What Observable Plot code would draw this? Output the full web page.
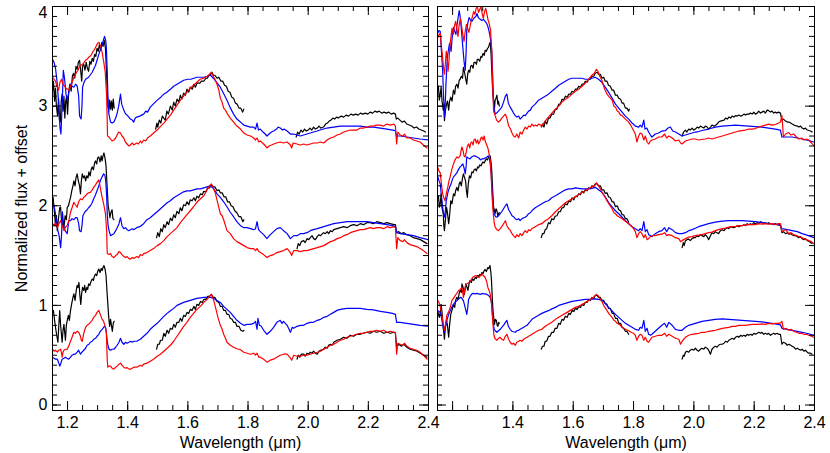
<!DOCTYPE html>
<html><head><meta charset="utf-8">
<script src="https://cdn.jsdelivr.net/npm/d3@7"></script>
<script src="https://cdn.jsdelivr.net/npm/@observablehq/plot@0.6"></script>
<style>
html,body{margin:0;padding:0;background:#fff;}
#wrap{position:relative;width:830px;height:453px;overflow:hidden;}
#wrap svg{position:absolute;left:0;top:0;}
</style></head><body><div id="wrap"></div>
<script>
// ---------- tick values / labels ----------
const xMajor = [1.2,1.4,1.6,1.8,2.0,2.2,2.4];
const xMinor = [1.15,1.2,1.25,1.3,1.35,1.4,1.45,1.5,1.55,1.6,1.65,1.7,1.75,1.8,1.85,1.9,1.95,2.0,2.05,2.1,2.15,2.2,2.25,2.3,2.35,2.4];
const xLabelsLeft = [1.2,1.4,1.6,1.8,2.0,2.2,2.4];
const xLabelsRight = [1.4,1.6,1.8,2.0,2.2,2.4];
const yMajor = [0,1,2,3,4];
const yMinor = [0,0.1,0.2,0.3,0.4,0.5,0.6,0.7,0.8,0.9,1,1.1,1.2,1.3,1.4,1.5,1.6,1.7,1.8,1.9,2,2.1,2.2,2.3,2.4,2.5,2.6,2.7,2.8,2.9,3,3.1,3.2,3.3,3.4,3.5,3.6,3.7,3.8,3.9,4];
const yLabels = [0,1,2,3];
const yLabelTop = [4];
const xTitle = "Wavelength (μm)";
const yTitle = "Normalized flux + offset";

// ---------- LEFT PANEL spectra [wavelength, flux] ----------
const l3Blue = [[1.150,3.47],[1.155,3.44],[1.160,3.38],[1.165,3.25],[1.170,3.05],[1.175,2.78],[1.178,2.72],[1.182,3.00],[1.186,3.36],[1.190,3.28],[1.195,3.12],[1.199,3.06],[1.205,3.15],[1.210,3.22],[1.215,3.20],[1.221,3.19],[1.227,3.22],[1.232,3.20],[1.237,3.10],[1.240,2.90],[1.245,2.87],[1.248,3.00],[1.250,3.19],[1.255,3.24],[1.260,3.27],[1.270,3.29],[1.282,3.34],[1.293,3.41],[1.304,3.52],[1.315,3.62],[1.323,3.70],[1.327,3.66],[1.329,3.59],[1.332,3.35],[1.334,3.12],[1.337,2.93],[1.343,2.84],[1.348,2.83],[1.354,2.84],[1.360,2.88],[1.365,2.93],[1.370,3.00],[1.376,3.12],[1.380,3.02],[1.387,2.96],[1.393,2.92],[1.398,2.91],[1.404,2.89],[1.409,2.87],[1.415,2.86],[1.420,2.84],[1.425,2.88],[1.430,2.89],[1.440,2.90],[1.453,2.92],[1.460,2.95],[1.466,2.94],[1.475,2.99],[1.485,3.02],[1.498,3.06],[1.510,3.09],[1.520,3.12],[1.530,3.14],[1.542,3.17],[1.553,3.20],[1.564,3.22],[1.575,3.24],[1.586,3.26],[1.600,3.27],[1.610,3.27],[1.620,3.28],[1.630,3.29],[1.640,3.29],[1.653,3.29],[1.665,3.30],[1.675,3.31],[1.685,3.28],[1.695,3.24],[1.708,3.19],[1.720,3.12],[1.730,3.06],[1.740,2.99],[1.752,2.92],[1.763,2.87],[1.775,2.84],[1.786,2.81],[1.797,2.80],[1.808,2.79],[1.819,2.79],[1.825,2.77],[1.830,2.83],[1.835,2.76],[1.841,2.77],[1.850,2.74],[1.857,2.72],[1.863,2.70],[1.870,2.72],[1.878,2.74],[1.885,2.75],[1.895,2.77],[1.900,2.79],[1.907,2.78],[1.915,2.76],[1.920,2.77],[1.930,2.75],[1.941,2.72],[1.952,2.72],[1.963,2.71],[1.974,2.70],[1.985,2.71],[1.996,2.72],[2.007,2.73],[2.018,2.74],[2.030,2.75],[2.040,2.76],[2.062,2.78],[2.085,2.79],[2.107,2.80],[2.129,2.80],[2.151,2.80],[2.173,2.80],[2.195,2.79],[2.217,2.79],[2.240,2.78],[2.262,2.77],[2.280,2.76],[2.290,2.755],[2.293,2.70],[2.306,2.70],[2.328,2.69],[2.350,2.68],[2.372,2.67],[2.400,2.66]];
const l3Red = [[1.150,3.29],[1.155,3.27],[1.160,3.25],[1.165,3.20],[1.170,3.16],[1.175,3.24],[1.180,3.27],[1.185,3.22],[1.190,3.20],[1.195,3.18],[1.200,3.17],[1.205,3.16],[1.210,3.20],[1.215,3.24],[1.220,3.28],[1.225,3.31],[1.230,3.34],[1.235,3.36],[1.240,3.40],[1.245,3.41],[1.250,3.42],[1.255,3.44],[1.260,3.46],[1.265,3.47],[1.270,3.49],[1.275,3.50],[1.280,3.52],[1.285,3.55],[1.290,3.57],[1.295,3.60],[1.300,3.63],[1.305,3.64],[1.310,3.60],[1.315,3.54],[1.320,3.45],[1.325,3.35],[1.330,3.10],[1.333,2.70],[1.338,2.69],[1.343,2.67],[1.348,2.65],[1.354,2.66],[1.360,2.68],[1.365,2.71],[1.370,2.74],[1.376,2.73],[1.381,2.70],[1.387,2.68],[1.392,2.64],[1.398,2.62],[1.404,2.60],[1.409,2.61],[1.415,2.63],[1.420,2.61],[1.425,2.62],[1.430,2.63],[1.436,2.62],[1.442,2.65],[1.447,2.63],[1.453,2.66],[1.460,2.65],[1.466,2.68],[1.475,2.70],[1.486,2.73],[1.498,2.76],[1.510,2.80],[1.520,2.83],[1.531,2.87],[1.542,2.91],[1.553,2.96],[1.564,3.01],[1.575,3.06],[1.586,3.10],[1.597,3.14],[1.608,3.18],[1.619,3.21],[1.630,3.24],[1.641,3.27],[1.653,3.28],[1.664,3.30],[1.672,3.32],[1.678,3.34],[1.683,3.31],[1.690,3.27],[1.697,3.22],[1.703,3.16],[1.708,3.08],[1.714,3.04],[1.719,2.98],[1.725,2.96],[1.730,2.93],[1.741,2.88],[1.752,2.84],[1.763,2.80],[1.775,2.77],[1.786,2.73],[1.797,2.71],[1.808,2.70],[1.819,2.68],[1.825,2.66],[1.830,2.68],[1.836,2.64],[1.841,2.65],[1.852,2.62],[1.858,2.60],[1.863,2.58],[1.870,2.60],[1.878,2.61],[1.885,2.62],[1.895,2.63],[1.907,2.64],[1.918,2.63],[1.930,2.64],[1.941,2.61],[1.945,2.58],[1.950,2.63],[1.963,2.62],[1.974,2.61],[1.985,2.62],[1.996,2.61],[2.007,2.62],[2.018,2.63],[2.030,2.63],[2.041,2.64],[2.052,2.63],[2.063,2.66],[2.074,2.68],[2.085,2.69],[2.096,2.71],[2.107,2.72],[2.118,2.74],[2.129,2.75],[2.140,2.76],[2.151,2.76],[2.162,2.76],[2.173,2.78],[2.184,2.78],[2.195,2.79],[2.206,2.80],[2.217,2.80],[2.228,2.81],[2.240,2.81],[2.251,2.80],[2.262,2.82],[2.273,2.81],[2.285,2.82],[2.290,2.80],[2.294,2.62],[2.298,2.74],[2.306,2.71],[2.315,2.70],[2.320,2.72],[2.328,2.68],[2.339,2.68],[2.350,2.66],[2.361,2.65],[2.372,2.64],[2.383,2.61],[2.395,2.58]];
const l3BlackJ = [[1.150,3.15],[1.153,3.25],[1.157,3.05],[1.160,3.18],[1.163,3.00],[1.167,2.90],[1.170,3.08],[1.173,2.86],[1.176,2.84],[1.179,3.05],[1.182,3.12],[1.185,2.95],[1.188,3.10],[1.191,2.88],[1.194,3.05],[1.197,3.10],[1.200,2.92],[1.204,3.15],[1.208,3.22],[1.212,3.15],[1.216,3.30],[1.220,3.33],[1.224,3.28],[1.228,3.40],[1.232,3.37],[1.236,3.44],[1.240,3.46],[1.244,3.35],[1.247,3.25],[1.250,3.40],[1.254,3.42],[1.258,3.36],[1.262,3.44],[1.266,3.38],[1.270,3.35],[1.274,3.45],[1.278,3.42],[1.282,3.48],[1.286,3.45],[1.290,3.52],[1.294,3.50],[1.298,3.58],[1.302,3.55],[1.306,3.62],[1.310,3.56],[1.314,3.64],[1.318,3.60],[1.322,3.66],[1.326,3.58],[1.330,3.30],[1.334,3.00],[1.337,2.95],[1.340,3.06],[1.343,2.97],[1.346,3.05],[1.349,2.96],[1.352,3.07],[1.355,2.98]];
const l3BlackH = [[1.493,2.77],[1.497,2.83],[1.500,2.79],[1.505,2.86],[1.510,2.83],[1.515,2.90],[1.520,2.88],[1.525,2.86],[1.530,2.95],[1.535,2.92],[1.542,3.00],[1.548,2.96],[1.553,3.04],[1.558,3.00],[1.564,3.07],[1.570,3.04],[1.575,3.11],[1.580,3.07],[1.586,3.13],[1.592,3.11],[1.597,3.17],[1.603,3.14],[1.608,3.19],[1.615,3.17],[1.620,3.22],[1.625,3.19],[1.630,3.23],[1.640,3.23],[1.645,3.25],[1.653,3.25],[1.660,3.28],[1.665,3.28],[1.670,3.31],[1.675,3.31],[1.680,3.34],[1.685,3.31],[1.690,3.31],[1.697,3.28],[1.703,3.29],[1.710,3.25],[1.716,3.25],[1.722,3.21],[1.728,3.20],[1.734,3.15],[1.740,3.14],[1.746,3.09],[1.752,3.08],[1.758,3.03],[1.764,3.02],[1.770,2.98],[1.776,2.98],[1.782,2.94],[1.786,2.97]];
const l3BlackK = [[1.960,2.69],[1.965,2.74],[1.970,2.72],[1.976,2.76],[1.982,2.74],[1.988,2.77],[1.994,2.75],[2.000,2.76],[2.006,2.78],[2.012,2.76],[2.018,2.79],[2.024,2.77],[2.030,2.78],[2.036,2.80],[2.042,2.78],[2.051,2.79],[2.058,2.82],[2.064,2.83],[2.070,2.85],[2.076,2.86],[2.082,2.88],[2.088,2.87],[2.094,2.89],[2.100,2.88],[2.110,2.90],[2.118,2.89],[2.126,2.91],[2.134,2.90],[2.142,2.92],[2.150,2.91],[2.158,2.92],[2.166,2.91],[2.174,2.93],[2.182,2.92],[2.190,2.93],[2.198,2.92],[2.206,2.94],[2.214,2.93],[2.222,2.95],[2.229,2.94],[2.236,2.95],[2.244,2.93],[2.252,2.94],[2.260,2.93],[2.268,2.94],[2.276,2.92],[2.284,2.93],[2.290,2.92],[2.293,2.87],[2.298,2.88],[2.305,2.86],[2.312,2.84],[2.320,2.85],[2.328,2.82],[2.336,2.81],[2.344,2.80],[2.352,2.78],[2.360,2.79],[2.368,2.77],[2.376,2.76],[2.384,2.75],[2.390,2.74]];

const l2Blue = [[1.150,2.05],[1.155,2.00],[1.160,1.92],[1.165,1.80],[1.168,1.75],[1.172,1.70],[1.177,1.58],[1.180,1.70],[1.183,1.94],[1.188,1.78],[1.194,1.74],[1.199,1.72],[1.204,1.85],[1.210,1.85],[1.215,1.87],[1.221,1.86],[1.227,1.88],[1.232,1.88],[1.237,1.82],[1.240,1.75],[1.245,1.74],[1.248,1.80],[1.251,1.90],[1.258,1.94],[1.265,1.96],[1.270,1.98],[1.276,2.00],[1.282,2.03],[1.287,2.07],[1.293,2.11],[1.298,2.15],[1.304,2.20],[1.309,2.25],[1.315,2.29],[1.320,2.32],[1.324,2.31],[1.327,2.25],[1.330,2.10],[1.332,1.92],[1.335,1.80],[1.338,1.75],[1.343,1.70],[1.348,1.71],[1.354,1.72],[1.360,1.75],[1.365,1.78],[1.371,1.82],[1.376,1.88],[1.381,1.80],[1.387,1.77],[1.393,1.78],[1.398,1.76],[1.404,1.75],[1.409,1.76],[1.415,1.77],[1.420,1.76],[1.430,1.78],[1.440,1.79],[1.453,1.82],[1.464,1.86],[1.475,1.88],[1.486,1.91],[1.498,1.94],[1.509,1.97],[1.520,2.00],[1.531,2.03],[1.542,2.05],[1.553,2.08],[1.564,2.10],[1.575,2.12],[1.586,2.14],[1.597,2.15],[1.608,2.15],[1.619,2.16],[1.630,2.17],[1.642,2.17],[1.653,2.18],[1.664,2.19],[1.675,2.20],[1.686,2.17],[1.697,2.12],[1.708,2.085],[1.719,2.04],[1.730,1.99],[1.741,1.935],[1.752,1.89],[1.763,1.84],[1.775,1.80],[1.786,1.78],[1.797,1.78],[1.808,1.77],[1.819,1.76],[1.825,1.77],[1.830,1.84],[1.835,1.76],[1.841,1.74],[1.852,1.71],[1.863,1.67],[1.874,1.71],[1.885,1.74],[1.896,1.77],[1.907,1.78],[1.918,1.75],[1.930,1.72],[1.941,1.67],[1.952,1.70],[1.963,1.70],[1.974,1.72],[1.985,1.72],[1.996,1.73],[2.007,1.75],[2.018,1.76],[2.030,1.77],[2.041,1.78],[2.052,1.79],[2.063,1.80],[2.085,1.82],[2.107,1.83],[2.129,1.84],[2.151,1.84],[2.173,1.84],[2.195,1.84],[2.217,1.83],[2.240,1.82],[2.262,1.81],[2.280,1.80],[2.290,1.79],[2.294,1.73],[2.306,1.72],[2.328,1.71],[2.350,1.70],[2.372,1.68],[2.400,1.66]];
const l2Red = [[1.150,1.82],[1.155,1.80],[1.160,1.83],[1.166,1.78],[1.171,1.82],[1.177,1.85],[1.182,1.80],[1.188,1.75],[1.194,1.79],[1.199,1.80],[1.205,1.86],[1.210,1.935],[1.215,1.98],[1.221,2.035],[1.226,2.01],[1.232,1.985],[1.237,2.04],[1.243,2.07],[1.249,2.06],[1.254,2.085],[1.260,2.10],[1.265,2.12],[1.270,2.13],[1.276,2.135],[1.282,2.16],[1.287,2.185],[1.293,2.21],[1.298,2.235],[1.304,2.26],[1.309,2.18],[1.315,2.085],[1.320,2.02],[1.326,1.92],[1.330,1.75],[1.332,1.52],[1.338,1.51],[1.343,1.52],[1.348,1.49],[1.354,1.48],[1.360,1.50],[1.365,1.51],[1.371,1.54],[1.376,1.53],[1.381,1.51],[1.387,1.49],[1.393,1.48],[1.398,1.49],[1.404,1.47],[1.409,1.465],[1.415,1.48],[1.420,1.47],[1.430,1.49],[1.436,1.48],[1.442,1.51],[1.448,1.50],[1.453,1.52],[1.464,1.53],[1.475,1.55],[1.486,1.57],[1.498,1.60],[1.509,1.62],[1.520,1.65],[1.531,1.69],[1.542,1.72],[1.553,1.75],[1.564,1.78],[1.575,1.83],[1.586,1.87],[1.597,1.91],[1.608,1.95],[1.619,1.99],[1.630,2.035],[1.642,2.07],[1.653,2.10],[1.664,2.16],[1.672,2.20],[1.678,2.22],[1.684,2.19],[1.692,2.12],[1.700,2.02],[1.708,1.92],[1.714,1.90],[1.719,1.86],[1.725,1.80],[1.730,1.75],[1.741,1.72],[1.752,1.67],[1.763,1.64],[1.775,1.62],[1.786,1.60],[1.797,1.58],[1.808,1.57],[1.819,1.57],[1.825,1.55],[1.830,1.57],[1.836,1.54],[1.841,1.53],[1.852,1.51],[1.863,1.48],[1.874,1.50],[1.885,1.51],[1.896,1.53],[1.907,1.54],[1.918,1.55],[1.930,1.57],[1.941,1.53],[1.945,1.50],[1.952,1.55],[1.963,1.55],[1.974,1.54],[1.985,1.55],[1.996,1.55],[2.007,1.56],[2.018,1.57],[2.030,1.58],[2.041,1.59],[2.052,1.60],[2.063,1.62],[2.074,1.64],[2.085,1.65],[2.096,1.67],[2.107,1.68],[2.118,1.70],[2.129,1.71],[2.140,1.73],[2.151,1.74],[2.162,1.75],[2.173,1.76],[2.184,1.76],[2.195,1.77],[2.206,1.78],[2.217,1.77],[2.228,1.78],[2.240,1.78],[2.251,1.77],[2.262,1.79],[2.273,1.78],[2.285,1.79],[2.290,1.78],[2.294,1.57],[2.298,1.68],[2.306,1.65],[2.315,1.64],[2.320,1.66],[2.328,1.63],[2.339,1.61],[2.350,1.60],[2.361,1.59],[2.372,1.57],[2.383,1.55],[2.395,1.52]];
const l2BlackJ = [[1.150,2.06],[1.152,2.085],[1.156,1.95],[1.160,1.80],[1.163,1.90],[1.166,1.75],[1.170,1.88],[1.174,1.98],[1.177,1.985],[1.180,1.85],[1.184,1.80],[1.188,1.78],[1.192,1.90],[1.196,1.86],[1.199,1.985],[1.203,2.00],[1.207,2.05],[1.210,2.085],[1.214,2.15],[1.218,2.20],[1.221,2.25],[1.225,2.20],[1.228,2.28],[1.232,2.32],[1.236,2.25],[1.240,2.20],[1.243,2.12],[1.246,2.25],[1.249,2.32],[1.253,2.28],[1.257,2.30],[1.260,2.25],[1.264,2.30],[1.268,2.28],[1.271,2.34],[1.275,2.30],[1.279,2.37],[1.282,2.39],[1.286,2.36],[1.290,2.43],[1.293,2.45],[1.297,2.42],[1.300,2.48],[1.304,2.49],[1.308,2.44],[1.312,2.50],[1.315,2.45],[1.318,2.50],[1.321,2.53],[1.325,2.47],[1.328,2.40],[1.331,2.22],[1.335,2.00],[1.338,1.95],[1.341,1.88],[1.344,1.93],[1.348,1.96],[1.351,1.87],[1.354,1.86]];
const l2BlackH = [[1.496,1.68],[1.500,1.73],[1.505,1.69],[1.510,1.77],[1.515,1.74],[1.520,1.81],[1.525,1.78],[1.531,1.84],[1.536,1.81],[1.542,1.875],[1.548,1.85],[1.553,1.91],[1.558,1.88],[1.564,1.945],[1.570,1.92],[1.575,1.98],[1.580,1.95],[1.586,2.01],[1.592,2.00],[1.597,2.04],[1.603,2.01],[1.608,2.06],[1.614,2.05],[1.620,2.08],[1.625,2.05],[1.630,2.095],[1.636,2.08],[1.642,2.12],[1.648,2.11],[1.653,2.145],[1.660,2.14],[1.666,2.18],[1.672,2.18],[1.678,2.21],[1.684,2.19],[1.690,2.19],[1.697,2.15],[1.703,2.16],[1.708,2.13],[1.714,2.13],[1.720,2.09],[1.726,2.09],[1.732,2.04],[1.738,2.04],[1.744,2.00],[1.750,1.99],[1.756,1.95],[1.763,1.93],[1.770,1.89],[1.776,1.89],[1.783,1.84],[1.786,1.86]];
const l2BlackK = [[1.963,1.57],[1.967,1.62],[1.972,1.60],[1.977,1.64],[1.985,1.65],[1.990,1.63],[1.996,1.67],[2.002,1.66],[2.007,1.68],[2.013,1.70],[2.018,1.67],[2.024,1.66],[2.030,1.69],[2.036,1.71],[2.041,1.70],[2.051,1.73],[2.057,1.72],[2.063,1.74],[2.068,1.72],[2.074,1.75],[2.080,1.74],[2.085,1.76],[2.096,1.77],[2.107,1.78],[2.118,1.79],[2.129,1.78],[2.140,1.80],[2.151,1.81],[2.162,1.80],[2.173,1.82],[2.184,1.81],[2.195,1.83],[2.206,1.83],[2.217,1.82],[2.228,1.84],[2.240,1.83],[2.251,1.82],[2.262,1.83],[2.273,1.82],[2.285,1.81],[2.290,1.81],[2.294,1.73],[2.301,1.74],[2.310,1.72],[2.318,1.73],[2.328,1.71],[2.339,1.70],[2.350,1.68],[2.362,1.67],[2.373,1.66],[2.384,1.64],[2.395,1.62]];

const l1Blue = [[1.150,0.48],[1.155,0.47],[1.160,0.46],[1.166,0.46],[1.170,0.43],[1.174,0.39],[1.178,0.42],[1.182,0.46],[1.188,0.47],[1.193,0.48],[1.198,0.47],[1.204,0.46],[1.210,0.48],[1.215,0.50],[1.221,0.51],[1.226,0.51],[1.232,0.53],[1.237,0.55],[1.243,0.51],[1.248,0.53],[1.254,0.55],[1.260,0.57],[1.265,0.60],[1.271,0.61],[1.276,0.63],[1.282,0.64],[1.287,0.66],[1.293,0.67],[1.298,0.69],[1.304,0.71],[1.309,0.74],[1.315,0.76],[1.320,0.78],[1.324,0.79],[1.327,0.77],[1.330,0.70],[1.332,0.64],[1.335,0.59],[1.338,0.56],[1.343,0.55],[1.348,0.56],[1.354,0.56],[1.360,0.58],[1.365,0.60],[1.371,0.63],[1.376,0.67],[1.381,0.63],[1.387,0.61],[1.393,0.63],[1.398,0.62],[1.404,0.63],[1.409,0.64],[1.415,0.63],[1.420,0.64],[1.430,0.64],[1.442,0.66],[1.453,0.69],[1.464,0.72],[1.475,0.76],[1.486,0.79],[1.498,0.82],[1.509,0.855],[1.520,0.89],[1.531,0.92],[1.542,0.947],[1.553,0.97],[1.564,1.00],[1.575,1.015],[1.586,1.03],[1.597,1.04],[1.608,1.05],[1.619,1.06],[1.630,1.07],[1.642,1.075],[1.653,1.08],[1.664,1.08],[1.675,1.08],[1.686,1.07],[1.697,1.05],[1.708,1.03],[1.719,0.99],[1.730,0.96],[1.741,0.93],[1.752,0.89],[1.763,0.85],[1.775,0.82],[1.786,0.80],[1.797,0.81],[1.808,0.81],[1.819,0.82],[1.825,0.84],[1.830,0.76],[1.833,0.87],[1.838,0.80],[1.844,0.79],[1.852,0.75],[1.863,0.71],[1.874,0.74],[1.885,0.78],[1.896,0.83],[1.907,0.85],[1.913,0.82],[1.918,0.84],[1.930,0.80],[1.941,0.73],[1.947,0.78],[1.952,0.77],[1.963,0.79],[1.974,0.80],[1.985,0.80],[1.996,0.82],[2.007,0.83],[2.018,0.83],[2.030,0.85],[2.041,0.86],[2.052,0.88],[2.063,0.89],[2.074,0.91],[2.085,0.93],[2.096,0.95],[2.107,0.96],[2.129,0.97],[2.151,0.97],[2.173,0.97],[2.195,0.96],[2.217,0.955],[2.240,0.94],[2.262,0.93],[2.280,0.92],[2.290,0.91],[2.294,0.83],[2.306,0.83],[2.328,0.82],[2.350,0.81],[2.372,0.80],[2.400,0.79]];
const l1Red = [[1.150,0.56],[1.155,0.54],[1.160,0.55],[1.166,0.53],[1.171,0.55],[1.177,0.56],[1.180,0.52],[1.182,0.48],[1.185,0.53],[1.188,0.55],[1.194,0.56],[1.199,0.56],[1.205,0.60],[1.210,0.64],[1.215,0.68],[1.221,0.73],[1.226,0.72],[1.232,0.74],[1.237,0.73],[1.243,0.69],[1.246,0.65],[1.249,0.64],[1.254,0.72],[1.260,0.78],[1.265,0.80],[1.270,0.81],[1.276,0.83],[1.282,0.85],[1.287,0.88],[1.293,0.90],[1.298,0.93],[1.304,0.95],[1.309,0.91],[1.315,0.86],[1.320,0.84],[1.326,0.78],[1.329,0.73],[1.332,0.45],[1.334,0.38],[1.338,0.39],[1.343,0.39],[1.348,0.37],[1.354,0.36],[1.360,0.38],[1.365,0.39],[1.371,0.41],[1.376,0.42],[1.381,0.40],[1.387,0.38],[1.393,0.37],[1.398,0.375],[1.404,0.36],[1.409,0.36],[1.415,0.37],[1.420,0.38],[1.430,0.38],[1.436,0.39],[1.442,0.40],[1.448,0.39],[1.453,0.41],[1.464,0.42],[1.475,0.44],[1.486,0.46],[1.498,0.49],[1.509,0.51],[1.520,0.54],[1.531,0.57],[1.542,0.60],[1.553,0.64],[1.564,0.69],[1.575,0.74],[1.586,0.79],[1.597,0.83],[1.608,0.88],[1.619,0.92],[1.630,0.96],[1.642,0.99],[1.653,1.03],[1.664,1.06],[1.672,1.09],[1.678,1.11],[1.684,1.07],[1.692,0.98],[1.700,0.88],[1.708,0.80],[1.714,0.76],[1.719,0.71],[1.725,0.67],[1.730,0.63],[1.741,0.60],[1.752,0.58],[1.763,0.565],[1.775,0.555],[1.786,0.53],[1.797,0.52],[1.808,0.51],[1.819,0.52],[1.825,0.50],[1.830,0.52],[1.836,0.48],[1.841,0.48],[1.852,0.46],[1.863,0.43],[1.874,0.45],[1.885,0.46],[1.896,0.48],[1.907,0.50],[1.918,0.51],[1.930,0.51],[1.941,0.47],[1.945,0.45],[1.952,0.50],[1.963,0.49],[1.974,0.49],[1.985,0.50],[1.996,0.50],[2.007,0.51],[2.018,0.52],[2.030,0.53],[2.041,0.54],[2.052,0.56],[2.063,0.58],[2.074,0.60],[2.085,0.61],[2.096,0.63],[2.107,0.65],[2.118,0.66],[2.129,0.68],[2.140,0.69],[2.151,0.70],[2.162,0.71],[2.173,0.72],[2.184,0.72],[2.195,0.73],[2.206,0.74],[2.217,0.74],[2.228,0.75],[2.240,0.74],[2.251,0.75],[2.262,0.73],[2.273,0.74],[2.285,0.73],[2.290,0.73],[2.294,0.51],[2.298,0.62],[2.306,0.61],[2.315,0.60],[2.320,0.62],[2.328,0.59],[2.339,0.57],[2.350,0.56],[2.361,0.55],[2.372,0.53],[2.383,0.50],[2.395,0.46]];
const l1BlackJ = [[1.150,0.93],[1.153,0.95],[1.157,0.85],[1.160,0.78],[1.164,0.70],[1.168,0.63],[1.171,0.80],[1.174,0.947],[1.177,0.80],[1.180,0.70],[1.182,0.63],[1.185,0.75],[1.188,0.81],[1.190,0.75],[1.193,0.65],[1.196,0.80],[1.199,0.85],[1.203,0.90],[1.206,0.85],[1.210,0.95],[1.214,1.02],[1.218,1.08],[1.221,1.115],[1.225,1.05],[1.229,1.15],[1.232,1.20],[1.235,1.18],[1.238,1.23],[1.241,1.10],[1.244,1.01],[1.247,1.12],[1.250,1.18],[1.254,1.15],[1.257,1.20],[1.260,1.13],[1.264,1.18],[1.267,1.16],[1.270,1.215],[1.274,1.20],[1.278,1.24],[1.282,1.265],[1.286,1.25],[1.289,1.29],[1.293,1.315],[1.297,1.30],[1.300,1.34],[1.304,1.365],[1.308,1.33],[1.312,1.37],[1.315,1.35],[1.318,1.38],[1.321,1.40],[1.325,1.36],[1.328,1.30],[1.331,1.15],[1.334,1.01],[1.337,0.88],[1.340,0.79],[1.343,0.86],[1.346,0.80],[1.349,0.74],[1.352,0.82],[1.355,0.84]];
const l1BlackH = [[1.496,0.56],[1.500,0.61],[1.505,0.61],[1.509,0.65],[1.515,0.65],[1.520,0.72],[1.525,0.69],[1.531,0.75],[1.536,0.72],[1.542,0.77],[1.548,0.76],[1.553,0.81],[1.558,0.78],[1.564,0.83],[1.570,0.83],[1.575,0.87],[1.580,0.84],[1.586,0.90],[1.592,0.89],[1.597,0.93],[1.603,0.92],[1.608,0.96],[1.614,0.95],[1.620,0.99],[1.625,0.96],[1.630,1.01],[1.636,1.00],[1.642,1.04],[1.648,1.03],[1.653,1.06],[1.660,1.06],[1.666,1.09],[1.672,1.09],[1.678,1.11],[1.684,1.08],[1.690,1.08],[1.697,1.04],[1.703,1.03],[1.708,0.99],[1.714,0.99],[1.719,0.95],[1.725,0.95],[1.730,0.91],[1.736,0.91],[1.741,0.87],[1.747,0.86],[1.752,0.83],[1.758,0.83],[1.763,0.79],[1.770,0.79],[1.776,0.75],[1.783,0.74],[1.786,0.75]];
const l1BlackK = [[1.963,0.46],[1.967,0.50],[1.972,0.48],[1.977,0.51],[1.985,0.51],[1.990,0.49],[1.996,0.52],[2.002,0.51],[2.007,0.53],[2.013,0.52],[2.018,0.54],[2.024,0.52],[2.030,0.51],[2.036,0.54],[2.041,0.55],[2.051,0.56],[2.057,0.58],[2.063,0.57],[2.068,0.60],[2.074,0.61],[2.080,0.60],[2.085,0.63],[2.096,0.65],[2.107,0.66],[2.118,0.68],[2.129,0.67],[2.140,0.70],[2.151,0.69],[2.162,0.71],[2.173,0.71],[2.184,0.72],[2.195,0.73],[2.206,0.72],[2.217,0.74],[2.228,0.73],[2.240,0.74],[2.251,0.72],[2.262,0.73],[2.273,0.72],[2.285,0.73],[2.290,0.72],[2.294,0.58],[2.301,0.61],[2.310,0.59],[2.318,0.61],[2.328,0.58],[2.339,0.56],[2.350,0.55],[2.362,0.54],[2.373,0.52],[2.384,0.50],[2.395,0.48]];

// ---------- RIGHT PANEL spectra [wavelength, flux] ----------
const r3Blue = [[1.150,3.73],[1.155,3.76],[1.159,3.75],[1.163,3.55],[1.167,3.36],[1.170,3.10],[1.173,2.89],[1.176,3.05],[1.178,3.22],[1.181,3.40],[1.184,3.52],[1.187,3.58],[1.190,3.63],[1.193,3.58],[1.195,3.55],[1.199,3.70],[1.203,3.79],[1.207,3.75],[1.211,3.72],[1.214,3.80],[1.217,3.86],[1.220,3.92],[1.222,3.96],[1.225,3.90],[1.227,3.85],[1.231,3.70],[1.234,3.59],[1.238,3.45],[1.242,3.36],[1.245,3.55],[1.247,3.76],[1.251,3.84],[1.255,3.89],[1.260,3.86],[1.264,3.85],[1.268,3.87],[1.273,3.89],[1.277,3.90],[1.281,3.93],[1.285,3.89],[1.288,3.88],[1.293,3.87],[1.297,3.86],[1.302,3.87],[1.308,3.85],[1.313,3.83],[1.317,3.80],[1.321,3.75],[1.325,3.69],[1.328,3.62],[1.330,3.55],[1.333,3.30],[1.336,3.02],[1.341,2.92],[1.346,2.93],[1.352,2.95],[1.358,2.97],[1.363,2.99],[1.369,3.04],[1.375,3.10],[1.380,3.12],[1.385,3.03],[1.391,2.99],[1.397,2.96],[1.402,2.93],[1.408,2.905],[1.413,2.89],[1.419,2.90],[1.424,2.87],[1.430,2.89],[1.436,2.91],[1.441,2.905],[1.447,2.93],[1.452,2.95],[1.458,2.96],[1.463,2.99],[1.474,3.02],[1.485,3.06],[1.496,3.08],[1.507,3.10],[1.518,3.12],[1.529,3.15],[1.541,3.18],[1.552,3.21],[1.563,3.23],[1.574,3.25],[1.585,3.27],[1.596,3.28],[1.607,3.28],[1.618,3.28],[1.629,3.28],[1.640,3.27],[1.651,3.27],[1.662,3.28],[1.673,3.29],[1.684,3.27],[1.695,3.24],[1.706,3.19],[1.717,3.14],[1.729,3.08],[1.740,3.02],[1.751,2.98],[1.762,2.94],[1.773,2.90],[1.784,2.87],[1.795,2.83],[1.806,2.80],[1.817,2.79],[1.822,2.81],[1.828,2.79],[1.834,2.86],[1.838,2.77],[1.844,2.78],[1.850,2.74],[1.856,2.71],[1.861,2.69],[1.872,2.72],[1.883,2.73],[1.894,2.75],[1.906,2.755],[1.914,2.78],[1.922,2.79],[1.930,2.75],[1.939,2.74],[1.950,2.72],[1.961,2.70],[1.972,2.71],[1.983,2.72],[1.994,2.73],[2.005,2.74],[2.016,2.745],[2.027,2.755],[2.049,2.77],[2.071,2.79],[2.094,2.80],[2.116,2.805],[2.138,2.81],[2.160,2.805],[2.182,2.80],[2.204,2.795],[2.226,2.79],[2.248,2.78],[2.270,2.77],[2.287,2.76],[2.292,2.69],[2.310,2.69],[2.326,2.69],[2.343,2.68],[2.359,2.67],[2.380,2.655],[2.398,2.64]];
const r3Red = [[1.150,3.68],[1.155,3.72],[1.159,3.73],[1.163,3.60],[1.167,3.49],[1.170,3.38],[1.173,3.32],[1.176,3.42],[1.179,3.55],[1.182,3.48],[1.185,3.35],[1.188,3.45],[1.191,3.60],[1.195,3.70],[1.198,3.78],[1.202,3.72],[1.206,3.80],[1.210,3.85],[1.214,3.78],[1.218,3.70],[1.222,3.82],[1.226,3.88],[1.230,3.80],[1.234,3.72],[1.238,3.65],[1.242,3.75],[1.246,3.82],[1.250,3.78],[1.254,3.74],[1.258,3.80],[1.262,3.86],[1.266,3.90],[1.270,3.95],[1.274,3.92],[1.278,3.98],[1.282,4.00],[1.286,3.94],[1.290,3.97],[1.294,4.00],[1.298,3.93],[1.302,3.88],[1.306,3.95],[1.310,3.98],[1.314,3.92],[1.318,3.86],[1.322,3.82],[1.326,3.76],[1.330,3.55],[1.333,3.20],[1.336,2.95],[1.341,2.905],[1.346,2.86],[1.352,2.84],[1.358,2.855],[1.363,2.88],[1.369,2.90],[1.375,2.92],[1.380,2.88],[1.386,2.80],[1.392,2.77],[1.397,2.73],[1.402,2.70],[1.408,2.69],[1.413,2.72],[1.419,2.68],[1.424,2.74],[1.430,2.72],[1.436,2.76],[1.441,2.79],[1.447,2.77],[1.452,2.80],[1.458,2.79],[1.463,2.82],[1.469,2.80],[1.474,2.81],[1.480,2.80],[1.485,2.82],[1.491,2.81],[1.496,2.80],[1.507,2.85],[1.518,2.89],[1.529,2.93],[1.541,2.97],[1.552,3.00],[1.563,3.04],[1.574,3.07],[1.585,3.09],[1.596,3.12],[1.607,3.15],[1.618,3.17],[1.629,3.20],[1.640,3.23],[1.651,3.27],[1.662,3.31],[1.670,3.33],[1.677,3.37],[1.682,3.35],[1.688,3.30],[1.695,3.26],[1.703,3.18],[1.712,3.12],[1.720,3.09],[1.729,3.06],[1.735,3.00],[1.740,2.99],[1.746,2.95],[1.751,2.94],[1.757,2.91],[1.762,2.905],[1.773,2.87],[1.784,2.84],[1.792,2.80],[1.800,2.755],[1.806,2.72],[1.811,2.64],[1.817,2.70],[1.822,2.73],[1.828,2.72],[1.834,2.66],[1.839,2.70],[1.845,2.64],[1.850,2.62],[1.856,2.65],[1.861,2.66],[1.872,2.67],[1.883,2.69],[1.894,2.69],[1.903,2.72],[1.910,2.68],[1.917,2.70],[1.928,2.68],[1.939,2.65],[1.950,2.66],[1.956,2.63],[1.961,2.62],[1.972,2.65],[1.983,2.66],[1.994,2.67],[2.005,2.67],[2.016,2.66],[2.027,2.665],[2.038,2.67],[2.049,2.68],[2.060,2.67],[2.071,2.68],[2.082,2.69],[2.094,2.70],[2.105,2.71],[2.116,2.72],[2.127,2.73],[2.138,2.74],[2.149,2.75],[2.160,2.755],[2.171,2.76],[2.182,2.77],[2.193,2.77],[2.204,2.775],[2.215,2.79],[2.226,2.80],[2.237,2.81],[2.248,2.82],[2.259,2.81],[2.270,2.815],[2.281,2.83],[2.287,2.84],[2.292,2.905],[2.297,2.69],[2.304,2.72],[2.315,2.735],[2.322,2.71],[2.331,2.72],[2.340,2.69],[2.348,2.67],[2.357,2.68],[2.365,2.66],[2.373,2.67],[2.381,2.66],[2.390,2.63],[2.398,2.60]];
const r3BlackJ = [[1.150,3.16],[1.153,3.20],[1.156,3.06],[1.159,3.12],[1.162,3.19],[1.165,3.05],[1.169,2.96],[1.171,3.02],[1.173,2.855],[1.176,2.95],[1.180,3.02],[1.183,3.05],[1.187,2.96],[1.190,3.05],[1.194,3.09],[1.198,3.05],[1.203,3.16],[1.207,3.12],[1.210,3.20],[1.214,3.22],[1.218,3.18],[1.222,3.26],[1.225,3.27],[1.229,3.30],[1.233,3.28],[1.236,3.39],[1.239,3.35],[1.242,3.30],[1.245,3.25],[1.247,3.22],[1.250,3.32],[1.253,3.36],[1.257,3.34],[1.260,3.40],[1.264,3.41],[1.268,3.38],[1.271,3.44],[1.275,3.44],[1.279,3.42],[1.282,3.47],[1.286,3.47],[1.290,3.45],[1.294,3.50],[1.297,3.49],[1.301,3.53],[1.305,3.51],[1.308,3.56],[1.312,3.55],[1.316,3.58],[1.319,3.59],[1.322,3.62],[1.325,3.64],[1.328,3.50],[1.330,3.35],[1.333,3.15],[1.336,3.06],[1.339,2.98],[1.341,3.06],[1.344,3.08],[1.347,3.11],[1.350,3.02],[1.352,3.05],[1.355,3.00]];
const r3BlackH = [[1.494,2.79],[1.498,2.82],[1.503,2.79],[1.507,2.85],[1.512,2.82],[1.518,2.88],[1.523,2.88],[1.529,2.92],[1.535,2.92],[1.540,2.965],[1.546,2.97],[1.552,3.02],[1.557,3.02],[1.563,3.07],[1.568,3.06],[1.574,3.10],[1.580,3.09],[1.585,3.12],[1.591,3.12],[1.596,3.15],[1.602,3.14],[1.607,3.17],[1.613,3.17],[1.618,3.20],[1.624,3.19],[1.629,3.22],[1.635,3.22],[1.640,3.25],[1.646,3.24],[1.651,3.27],[1.657,3.27],[1.662,3.30],[1.668,3.30],[1.673,3.33],[1.679,3.34],[1.684,3.32],[1.690,3.32],[1.695,3.28],[1.701,3.29],[1.706,3.25],[1.712,3.25],[1.717,3.21],[1.723,3.20],[1.729,3.16],[1.734,3.16],[1.740,3.11],[1.746,3.11],[1.751,3.08],[1.757,3.07],[1.762,3.03],[1.767,3.03],[1.773,2.98],[1.778,2.98],[1.784,2.95],[1.786,2.97]];
const r3BlackK = [[1.961,2.70],[1.966,2.74],[1.972,2.76],[1.977,2.74],[1.983,2.77],[1.988,2.76],[1.994,2.78],[2.000,2.76],[2.005,2.77],[2.011,2.79],[2.016,2.78],[2.022,2.80],[2.027,2.79],[2.033,2.78],[2.038,2.80],[2.044,2.79],[2.049,2.77],[2.055,2.79],[2.060,2.81],[2.066,2.80],[2.071,2.805],[2.077,2.82],[2.082,2.84],[2.088,2.85],[2.094,2.855],[2.100,2.86],[2.105,2.88],[2.111,2.87],[2.116,2.89],[2.122,2.88],[2.127,2.90],[2.133,2.89],[2.138,2.905],[2.144,2.90],[2.149,2.91],[2.155,2.90],[2.160,2.905],[2.166,2.92],[2.171,2.91],[2.177,2.92],[2.182,2.92],[2.188,2.93],[2.193,2.92],[2.199,2.94],[2.204,2.92],[2.210,2.93],[2.215,2.95],[2.221,2.93],[2.226,2.94],[2.232,2.95],[2.237,2.93],[2.243,2.96],[2.248,2.955],[2.254,2.94],[2.259,2.95],[2.265,2.93],[2.270,2.94],[2.276,2.93],[2.281,2.94],[2.287,2.93],[2.292,2.86],[2.297,2.87],[2.304,2.85],[2.310,2.84],[2.315,2.84],[2.321,2.83],[2.326,2.82],[2.332,2.81],[2.337,2.805],[2.343,2.80],[2.348,2.79],[2.354,2.80],[2.359,2.78],[2.365,2.77],[2.370,2.78],[2.376,2.76],[2.381,2.755],[2.387,2.75],[2.392,2.74]];

const r2Blue = [[1.150,2.30],[1.155,2.25],[1.159,2.22],[1.163,2.10],[1.167,1.985],[1.170,1.92],[1.173,1.885],[1.176,1.95],[1.179,2.05],[1.181,2.08],[1.185,2.14],[1.190,2.185],[1.195,2.22],[1.199,2.26],[1.203,2.29],[1.209,2.31],[1.214,2.33],[1.219,2.36],[1.225,2.39],[1.229,2.40],[1.234,2.42],[1.238,2.38],[1.242,2.32],[1.245,2.40],[1.247,2.49],[1.252,2.48],[1.258,2.47],[1.263,2.49],[1.269,2.50],[1.275,2.50],[1.281,2.49],[1.287,2.48],[1.292,2.46],[1.297,2.47],[1.303,2.47],[1.308,2.48],[1.314,2.49],[1.318,2.50],[1.321,2.49],[1.325,2.42],[1.328,2.32],[1.331,2.15],[1.333,2.05],[1.336,1.95],[1.338,1.92],[1.343,1.89],[1.347,1.885],[1.352,1.90],[1.358,1.92],[1.363,1.94],[1.369,1.97],[1.375,2.00],[1.380,2.02],[1.386,1.96],[1.391,1.935],[1.397,1.90],[1.402,1.89],[1.408,1.87],[1.413,1.86],[1.419,1.87],[1.424,1.85],[1.430,1.87],[1.436,1.88],[1.441,1.885],[1.447,1.90],[1.452,1.92],[1.458,1.93],[1.463,1.95],[1.474,1.98],[1.485,2.00],[1.496,2.02],[1.507,2.04],[1.518,2.05],[1.529,2.08],[1.541,2.10],[1.552,2.12],[1.563,2.14],[1.574,2.16],[1.585,2.17],[1.596,2.17],[1.607,2.18],[1.618,2.175],[1.629,2.17],[1.640,2.17],[1.651,2.17],[1.662,2.175],[1.673,2.185],[1.684,2.16],[1.695,2.135],[1.706,2.09],[1.717,2.035],[1.729,1.99],[1.740,1.95],[1.751,1.92],[1.762,1.885],[1.773,1.85],[1.784,1.82],[1.795,1.79],[1.806,1.77],[1.817,1.75],[1.822,1.77],[1.828,1.75],[1.834,1.84],[1.839,1.74],[1.845,1.76],[1.850,1.71],[1.856,1.70],[1.861,1.69],[1.872,1.72],[1.883,1.74],[1.894,1.75],[1.903,1.78],[1.910,1.74],[1.917,1.78],[1.928,1.76],[1.939,1.73],[1.950,1.72],[1.961,1.72],[1.972,1.73],[1.983,1.75],[1.994,1.76],[2.005,1.775],[2.016,1.79],[2.027,1.80],[2.038,1.81],[2.049,1.82],[2.071,1.835],[2.094,1.845],[2.116,1.85],[2.138,1.85],[2.160,1.85],[2.182,1.845],[2.204,1.84],[2.226,1.83],[2.248,1.82],[2.270,1.815],[2.287,1.80],[2.292,1.77],[2.310,1.76],[2.326,1.75],[2.343,1.74],[2.359,1.72],[2.380,1.70],[2.398,1.68]];
const r2Red = [[1.150,2.39],[1.155,2.35],[1.159,2.33],[1.163,2.22],[1.167,2.12],[1.171,2.08],[1.175,2.05],[1.179,2.12],[1.184,2.185],[1.188,2.25],[1.192,2.29],[1.197,2.36],[1.203,2.42],[1.208,2.46],[1.214,2.49],[1.219,2.48],[1.225,2.50],[1.228,2.55],[1.231,2.59],[1.235,2.55],[1.238,2.50],[1.242,2.49],[1.246,2.55],[1.249,2.60],[1.253,2.62],[1.257,2.58],[1.260,2.63],[1.264,2.64],[1.268,2.61],[1.271,2.66],[1.275,2.67],[1.279,2.63],[1.283,2.66],[1.286,2.62],[1.290,2.64],[1.294,2.68],[1.297,2.69],[1.301,2.66],[1.305,2.70],[1.308,2.65],[1.312,2.62],[1.317,2.58],[1.321,2.52],[1.325,2.45],[1.328,2.30],[1.331,2.10],[1.334,1.95],[1.338,1.83],[1.341,1.785],[1.347,1.76],[1.352,1.75],[1.358,1.77],[1.363,1.79],[1.369,1.82],[1.375,1.85],[1.380,1.80],[1.386,1.77],[1.392,1.75],[1.397,1.72],[1.402,1.70],[1.408,1.68],[1.413,1.71],[1.419,1.69],[1.424,1.72],[1.430,1.70],[1.436,1.73],[1.441,1.75],[1.447,1.73],[1.452,1.76],[1.458,1.75],[1.463,1.77],[1.474,1.79],[1.485,1.81],[1.496,1.82],[1.507,1.85],[1.518,1.87],[1.529,1.90],[1.541,1.94],[1.552,1.97],[1.563,2.00],[1.574,2.03],[1.585,2.05],[1.596,2.07],[1.607,2.09],[1.618,2.11],[1.629,2.135],[1.640,2.15],[1.651,2.17],[1.662,2.19],[1.670,2.20],[1.677,2.23],[1.682,2.21],[1.688,2.18],[1.695,2.14],[1.703,2.10],[1.712,2.05],[1.720,2.01],[1.729,1.97],[1.735,1.93],[1.740,1.92],[1.746,1.90],[1.751,1.89],[1.757,1.88],[1.762,1.87],[1.773,1.845],[1.784,1.82],[1.792,1.80],[1.800,1.77],[1.806,1.74],[1.811,1.68],[1.817,1.72],[1.822,1.74],[1.828,1.72],[1.834,1.68],[1.839,1.71],[1.845,1.66],[1.850,1.67],[1.856,1.69],[1.861,1.70],[1.872,1.70],[1.883,1.71],[1.894,1.715],[1.903,1.73],[1.910,1.70],[1.917,1.71],[1.928,1.70],[1.939,1.68],[1.950,1.67],[1.956,1.64],[1.961,1.65],[1.972,1.67],[1.983,1.685],[1.994,1.69],[2.005,1.70],[2.016,1.705],[2.027,1.71],[2.038,1.72],[2.049,1.73],[2.060,1.735],[2.071,1.75],[2.082,1.76],[2.094,1.77],[2.105,1.775],[2.116,1.785],[2.127,1.79],[2.138,1.79],[2.149,1.80],[2.160,1.80],[2.171,1.805],[2.182,1.81],[2.193,1.81],[2.204,1.81],[2.215,1.82],[2.226,1.815],[2.237,1.82],[2.248,1.815],[2.259,1.82],[2.270,1.81],[2.281,1.82],[2.287,1.82],[2.292,1.74],[2.297,1.75],[2.304,1.76],[2.315,1.72],[2.322,1.73],[2.331,1.71],[2.340,1.70],[2.348,1.69],[2.357,1.68],[2.365,1.67],[2.373,1.66],[2.381,1.65],[2.390,1.64],[2.398,1.62]];
const r2BlackJ = [[1.150,2.085],[1.153,2.10],[1.156,1.985],[1.159,2.02],[1.162,2.12],[1.165,1.98],[1.169,1.92],[1.171,1.80],[1.173,1.75],[1.176,1.85],[1.180,1.985],[1.183,1.93],[1.187,1.82],[1.190,1.90],[1.194,2.05],[1.198,2.02],[1.203,2.12],[1.207,2.10],[1.210,2.15],[1.214,2.185],[1.218,2.15],[1.222,2.22],[1.225,2.24],[1.229,2.20],[1.233,2.28],[1.236,2.32],[1.240,2.28],[1.243,2.25],[1.246,2.15],[1.249,2.085],[1.252,2.22],[1.256,2.30],[1.260,2.28],[1.264,2.34],[1.268,2.33],[1.271,2.36],[1.275,2.37],[1.279,2.35],[1.283,2.39],[1.286,2.38],[1.290,2.41],[1.294,2.40],[1.297,2.42],[1.301,2.44],[1.305,2.43],[1.308,2.45],[1.312,2.47],[1.316,2.46],[1.319,2.49],[1.322,2.48],[1.325,2.50],[1.328,2.42],[1.330,2.35],[1.333,2.15],[1.336,1.985],[1.339,1.95],[1.341,1.92],[1.344,1.97],[1.347,1.95],[1.350,1.90],[1.352,1.92],[1.355,1.93]];
const r2BlackH = [[1.494,1.68],[1.498,1.72],[1.503,1.72],[1.507,1.76],[1.512,1.77],[1.518,1.83],[1.523,1.82],[1.529,1.87],[1.535,1.86],[1.540,1.895],[1.546,1.90],[1.552,1.94],[1.557,1.94],[1.563,1.98],[1.568,1.98],[1.574,2.02],[1.580,2.01],[1.585,2.045],[1.591,2.04],[1.596,2.08],[1.602,2.06],[1.607,2.095],[1.613,2.09],[1.618,2.12],[1.624,2.11],[1.629,2.145],[1.635,2.13],[1.640,2.16],[1.646,2.15],[1.651,2.18],[1.657,2.17],[1.662,2.20],[1.668,2.19],[1.673,2.22],[1.679,2.22],[1.684,2.20],[1.690,2.20],[1.695,2.16],[1.701,2.16],[1.706,2.125],[1.712,2.13],[1.717,2.09],[1.723,2.08],[1.729,2.04],[1.734,2.04],[1.740,1.99],[1.746,2.00],[1.751,1.96],[1.757,1.95],[1.762,1.91],[1.767,1.91],[1.773,1.87],[1.778,1.87],[1.784,1.835]];
const r2BlackK = [[1.961,1.58],[1.965,1.63],[1.968,1.60],[1.972,1.65],[1.977,1.66],[1.983,1.665],[1.988,1.65],[1.994,1.67],[2.000,1.68],[2.005,1.68],[2.011,1.70],[2.016,1.69],[2.022,1.71],[2.027,1.70],[2.033,1.69],[2.038,1.71],[2.044,1.69],[2.049,1.66],[2.055,1.70],[2.060,1.73],[2.066,1.72],[2.071,1.74],[2.077,1.73],[2.082,1.72],[2.088,1.75],[2.094,1.76],[2.100,1.75],[2.105,1.77],[2.111,1.78],[2.116,1.77],[2.122,1.79],[2.127,1.785],[2.133,1.78],[2.138,1.79],[2.144,1.80],[2.149,1.79],[2.155,1.80],[2.160,1.80],[2.166,1.81],[2.171,1.80],[2.177,1.82],[2.182,1.81],[2.188,1.82],[2.193,1.81],[2.199,1.83],[2.204,1.82],[2.210,1.83],[2.215,1.82],[2.221,1.84],[2.226,1.835],[2.232,1.82],[2.237,1.83],[2.243,1.82],[2.248,1.83],[2.254,1.82],[2.259,1.82],[2.265,1.81],[2.270,1.82],[2.276,1.81],[2.281,1.82],[2.287,1.81],[2.292,1.73],[2.297,1.74],[2.304,1.72],[2.310,1.73],[2.315,1.715],[2.321,1.72],[2.326,1.71],[2.332,1.70],[2.337,1.70],[2.343,1.69],[2.348,1.68],[2.354,1.69],[2.359,1.67],[2.365,1.66],[2.370,1.67],[2.376,1.65],[2.381,1.645],[2.387,1.63],[2.392,1.62]];

const r1Blue = [[1.150,0.947],[1.155,0.94],[1.159,0.93],[1.163,0.88],[1.167,0.81],[1.170,0.76],[1.173,0.73],[1.176,0.78],[1.181,0.85],[1.186,0.90],[1.192,0.947],[1.197,0.98],[1.203,1.01],[1.208,1.03],[1.214,1.045],[1.219,1.06],[1.225,1.08],[1.230,1.075],[1.236,1.045],[1.240,1.00],[1.244,0.95],[1.247,0.91],[1.250,0.97],[1.253,1.06],[1.258,1.09],[1.264,1.115],[1.269,1.12],[1.275,1.115],[1.280,1.12],[1.286,1.115],[1.292,1.11],[1.297,1.12],[1.303,1.115],[1.308,1.115],[1.314,1.11],[1.319,1.10],[1.323,1.09],[1.328,1.05],[1.331,0.96],[1.333,0.88],[1.336,0.80],[1.338,0.76],[1.343,0.74],[1.347,0.73],[1.352,0.745],[1.358,0.76],[1.363,0.78],[1.369,0.80],[1.375,0.83],[1.380,0.85],[1.385,0.79],[1.391,0.76],[1.397,0.74],[1.402,0.735],[1.408,0.73],[1.413,0.745],[1.419,0.75],[1.424,0.76],[1.430,0.77],[1.436,0.78],[1.441,0.79],[1.447,0.80],[1.452,0.82],[1.458,0.84],[1.463,0.86],[1.474,0.88],[1.485,0.90],[1.496,0.92],[1.507,0.935],[1.518,0.947],[1.529,0.965],[1.541,0.98],[1.552,1.00],[1.563,1.01],[1.574,1.02],[1.585,1.03],[1.596,1.04],[1.607,1.045],[1.618,1.05],[1.629,1.055],[1.640,1.06],[1.651,1.06],[1.662,1.062],[1.673,1.065],[1.684,1.06],[1.695,1.05],[1.706,1.02],[1.717,0.98],[1.729,0.945],[1.740,0.91],[1.751,0.88],[1.762,0.85],[1.773,0.82],[1.784,0.80],[1.795,0.78],[1.806,0.76],[1.817,0.75],[1.822,0.78],[1.828,0.77],[1.834,0.85],[1.839,0.74],[1.845,0.77],[1.850,0.71],[1.856,0.70],[1.861,0.71],[1.872,0.74],[1.883,0.77],[1.894,0.80],[1.903,0.82],[1.910,0.78],[1.917,0.83],[1.928,0.80],[1.939,0.76],[1.950,0.75],[1.961,0.75],[1.972,0.78],[1.983,0.80],[1.994,0.81],[2.005,0.82],[2.016,0.83],[2.027,0.84],[2.049,0.85],[2.071,0.86],[2.094,0.864],[2.116,0.86],[2.138,0.855],[2.160,0.85],[2.182,0.845],[2.204,0.84],[2.226,0.835],[2.248,0.825],[2.270,0.815],[2.287,0.805],[2.292,0.77],[2.310,0.76],[2.326,0.75],[2.343,0.74],[2.359,0.73],[2.380,0.715],[2.398,0.70]];
const r1Red = [[1.150,1.05],[1.155,1.03],[1.159,0.99],[1.163,0.93],[1.167,0.85],[1.170,0.80],[1.173,0.75],[1.177,0.82],[1.181,0.90],[1.186,0.93],[1.190,0.96],[1.194,1.00],[1.198,1.05],[1.203,1.07],[1.209,1.10],[1.214,1.12],[1.220,1.15],[1.225,1.16],[1.231,1.18],[1.234,1.12],[1.236,1.08],[1.240,1.15],[1.244,1.215],[1.249,1.22],[1.255,1.23],[1.260,1.25],[1.266,1.28],[1.271,1.29],[1.277,1.30],[1.282,1.29],[1.288,1.28],[1.293,1.30],[1.297,1.315],[1.302,1.30],[1.308,1.28],[1.313,1.24],[1.317,1.18],[1.321,1.15],[1.325,1.11],[1.329,1.02],[1.333,0.85],[1.337,0.70],[1.340,0.67],[1.347,0.65],[1.352,0.67],[1.358,0.68],[1.363,0.66],[1.369,0.65],[1.375,0.69],[1.380,0.71],[1.386,0.66],[1.391,0.63],[1.397,0.61],[1.402,0.62],[1.408,0.60],[1.413,0.63],[1.419,0.64],[1.424,0.65],[1.430,0.64],[1.436,0.66],[1.441,0.67],[1.447,0.68],[1.452,0.69],[1.458,0.70],[1.463,0.71],[1.474,0.73],[1.485,0.75],[1.496,0.76],[1.507,0.79],[1.518,0.81],[1.529,0.83],[1.541,0.86],[1.552,0.88],[1.563,0.90],[1.574,0.92],[1.585,0.94],[1.596,0.96],[1.607,0.98],[1.618,0.99],[1.629,1.01],[1.640,1.03],[1.651,1.05],[1.662,1.07],[1.670,1.09],[1.677,1.11],[1.682,1.10],[1.688,1.07],[1.695,1.04],[1.703,0.99],[1.712,0.947],[1.720,0.91],[1.729,0.88],[1.735,0.85],[1.740,0.84],[1.746,0.82],[1.751,0.81],[1.757,0.80],[1.762,0.78],[1.773,0.76],[1.784,0.745],[1.792,0.73],[1.800,0.72],[1.806,0.70],[1.811,0.65],[1.817,0.69],[1.822,0.71],[1.828,0.70],[1.834,0.65],[1.839,0.68],[1.845,0.64],[1.850,0.63],[1.856,0.66],[1.861,0.68],[1.872,0.69],[1.883,0.70],[1.894,0.70],[1.903,0.72],[1.910,0.69],[1.917,0.71],[1.928,0.69],[1.939,0.67],[1.950,0.66],[1.956,0.61],[1.961,0.64],[1.972,0.68],[1.983,0.70],[1.994,0.71],[2.005,0.715],[2.016,0.72],[2.027,0.73],[2.038,0.73],[2.049,0.74],[2.060,0.745],[2.071,0.75],[2.082,0.76],[2.094,0.77],[2.105,0.775],[2.116,0.78],[2.127,0.79],[2.138,0.79],[2.149,0.80],[2.160,0.80],[2.171,0.80],[2.182,0.805],[2.193,0.81],[2.204,0.81],[2.215,0.81],[2.226,0.815],[2.237,0.81],[2.248,0.82],[2.259,0.815],[2.270,0.82],[2.281,0.82],[2.287,0.825],[2.292,0.84],[2.297,0.76],[2.304,0.77],[2.315,0.75],[2.322,0.76],[2.331,0.74],[2.340,0.73],[2.348,0.72],[2.357,0.72],[2.365,0.71],[2.373,0.71],[2.381,0.70],[2.390,0.69],[2.398,0.68]];
const r1BlackJ = [[1.150,0.947],[1.153,0.92],[1.156,0.88],[1.159,0.92],[1.162,1.01],[1.165,0.93],[1.169,0.78],[1.171,0.72],[1.173,0.66],[1.176,0.78],[1.180,0.85],[1.183,0.80],[1.187,0.68],[1.190,0.80],[1.194,0.91],[1.198,0.95],[1.203,1.01],[1.207,0.98],[1.210,1.05],[1.214,1.08],[1.218,1.06],[1.222,1.12],[1.225,1.15],[1.229,1.13],[1.231,1.215],[1.235,1.18],[1.239,1.11],[1.241,1.15],[1.244,1.215],[1.248,1.18],[1.251,1.15],[1.255,1.22],[1.258,1.25],[1.262,1.23],[1.266,1.265],[1.270,1.25],[1.275,1.28],[1.279,1.27],[1.283,1.30],[1.286,1.29],[1.290,1.31],[1.294,1.30],[1.297,1.33],[1.301,1.32],[1.305,1.35],[1.308,1.36],[1.312,1.34],[1.317,1.38],[1.320,1.37],[1.324,1.40],[1.327,1.33],[1.329,1.25],[1.332,1.05],[1.334,0.95],[1.337,0.86],[1.339,0.81],[1.342,0.86],[1.345,0.85],[1.348,0.80],[1.350,0.79],[1.353,0.83],[1.355,0.82]];
const r1BlackH = [[1.494,0.56],[1.498,0.59],[1.503,0.59],[1.507,0.64],[1.512,0.64],[1.518,0.69],[1.523,0.69],[1.529,0.73],[1.535,0.73],[1.540,0.77],[1.546,0.77],[1.552,0.82],[1.557,0.81],[1.563,0.86],[1.568,0.85],[1.574,0.89],[1.580,0.88],[1.585,0.92],[1.591,0.91],[1.596,0.95],[1.602,0.94],[1.607,0.97],[1.613,0.96],[1.618,0.99],[1.624,0.98],[1.629,1.01],[1.635,1.00],[1.640,1.03],[1.646,1.03],[1.651,1.06],[1.657,1.05],[1.662,1.08],[1.668,1.07],[1.673,1.10],[1.679,1.10],[1.684,1.08],[1.690,1.08],[1.695,1.05],[1.701,1.05],[1.706,1.02],[1.712,1.01],[1.717,0.97],[1.723,0.97],[1.729,0.92],[1.734,0.92],[1.740,0.87],[1.746,0.87],[1.751,0.82],[1.757,0.82],[1.762,0.78],[1.767,0.77],[1.773,0.74],[1.778,0.74],[1.784,0.71]];
const r1BlackK = [[1.961,0.46],[1.965,0.50],[1.968,0.49],[1.972,0.53],[1.977,0.54],[1.983,0.53],[1.988,0.55],[1.994,0.56],[2.000,0.55],[2.005,0.57],[2.011,0.55],[2.016,0.54],[2.022,0.56],[2.027,0.57],[2.033,0.56],[2.038,0.58],[2.044,0.57],[2.049,0.55],[2.055,0.51],[2.060,0.56],[2.066,0.58],[2.071,0.59],[2.077,0.58],[2.082,0.60],[2.088,0.61],[2.094,0.61],[2.100,0.62],[2.105,0.64],[2.111,0.63],[2.116,0.65],[2.122,0.66],[2.127,0.67],[2.133,0.66],[2.138,0.68],[2.144,0.69],[2.149,0.68],[2.155,0.70],[2.160,0.69],[2.166,0.70],[2.171,0.69],[2.177,0.71],[2.182,0.70],[2.188,0.71],[2.193,0.70],[2.199,0.72],[2.204,0.71],[2.210,0.72],[2.215,0.73],[2.221,0.72],[2.226,0.73],[2.232,0.71],[2.237,0.72],[2.243,0.71],[2.248,0.72],[2.254,0.70],[2.259,0.71],[2.265,0.72],[2.270,0.71],[2.276,0.72],[2.281,0.71],[2.287,0.71],[2.292,0.61],[2.297,0.63],[2.304,0.62],[2.310,0.60],[2.315,0.61],[2.321,0.60],[2.326,0.59],[2.332,0.58],[2.337,0.56],[2.343,0.57],[2.348,0.56],[2.354,0.55],[2.359,0.56],[2.365,0.54],[2.370,0.55],[2.376,0.53],[2.381,0.52],[2.387,0.52],[2.392,0.51]];

// ---------- series tables (drawing order: black, blue, red) ----------
const leftSeries = [
  {data:l3BlackJ,c:"black"},{data:l3BlackH,c:"black"},{data:l3BlackK,c:"black"},
  {data:l2BlackJ,c:"black"},{data:l2BlackH,c:"black"},{data:l2BlackK,c:"black"},
  {data:l1BlackJ,c:"black"},{data:l1BlackH,c:"black"},{data:l1BlackK,c:"black"},
  {data:l3Blue,c:"blue"},{data:l2Blue,c:"blue"},{data:l1Blue,c:"blue"},
  {data:l3Red,c:"red"},{data:l2Red,c:"red"},{data:l1Red,c:"red"}
];
const rightSeries = [
  {data:r3BlackJ,c:"black"},{data:r3BlackH,c:"black"},{data:r3BlackK,c:"black"},
  {data:r2BlackJ,c:"black"},{data:r2BlackH,c:"black"},{data:r2BlackK,c:"black"},
  {data:r1BlackJ,c:"black"},{data:r1BlackH,c:"black"},{data:r1BlackK,c:"black"},
  {data:r3Blue,c:"blue"},{data:r2Blue,c:"blue"},{data:r1Blue,c:"blue"},
  {data:r3Red,c:"red"},{data:r2Red,c:"red"},{data:r1Red,c:"red"}
];
const palette = {black:"#000000", blue:"#0000ff", red:"#ff0000"};

// ---------- layout ----------
const W = 830, H = 453, mTop = 6, mBottom = 43;
const plotH = H - mTop - mBottom;
const FONT = "'Liberation Sans', Arial, Helvetica, sans-serif";
const FS = 16;
const MAJ = 9, MIN = 5;

function panel({left, right, series, xLabels, showY}) {
  const pw = W - left - right;
  const marks = [];
  for (const s of series) {
    marks.push(Plot.line(s.data, {x: d => d[0], y: d => d[1], stroke: palette[s.c], strokeWidth: 1.2, clip: true}));
  }
  // inward ticks on all four sides
  marks.push(Plot.tickX(xMinor, {x: d => d, insetTop: plotH - MIN, stroke: "#000", strokeWidth: 1}));
  marks.push(Plot.tickX(xMinor, {x: d => d, insetBottom: plotH - MIN, stroke: "#000", strokeWidth: 1}));
  marks.push(Plot.tickX(xMajor, {x: d => d, insetTop: plotH - MAJ, stroke: "#000", strokeWidth: 1}));
  marks.push(Plot.tickX(xMajor, {x: d => d, insetBottom: plotH - MAJ, stroke: "#000", strokeWidth: 1}));
  marks.push(Plot.tickY(yMinor, {y: d => d, insetRight: pw - MIN, stroke: "#000", strokeWidth: 1}));
  marks.push(Plot.tickY(yMinor, {y: d => d, insetLeft: pw - MIN, stroke: "#000", strokeWidth: 1}));
  marks.push(Plot.tickY(yMajor, {y: d => d, insetRight: pw - MAJ, stroke: "#000", strokeWidth: 1}));
  marks.push(Plot.tickY(yMajor, {y: d => d, insetLeft: pw - MAJ, stroke: "#000", strokeWidth: 1}));
  marks.push(Plot.frame({stroke: "#000", strokeWidth: 1}));
  marks.push(Plot.axisX(xLabels, {anchor: "bottom", tickSize: 0, tickPadding: 6, fontSize: FS, fill: "#000", tickFormat: d => d.toFixed(1), label: null}));
  marks.push(Plot.text([xTitle], {text: d => d, frameAnchor: "bottom", textAnchor: "middle", lineAnchor: "middle", dy: 32, fontSize: FS, fill: "#000"}));
  if (showY) {
    marks.push(Plot.axisY(yLabels, {anchor: "left", tickSize: 0, tickPadding: 5, fontSize: FS, fill: "#000", tickFormat: d => String(d), label: null}));
    marks.push(Plot.axisY(yLabelTop, {anchor: "left", tickSize: 0, tickPadding: 5, dy: 6, fontSize: FS, fill: "#000", tickFormat: d => String(d), label: null}));
    marks.push(Plot.text([yTitle], {text: d => d, frameAnchor: "left", textAnchor: "middle", lineAnchor: "middle", dx: -31, rotate: -90, fontSize: FS, fill: "#000"}));
  }
  return Plot.plot({
    width: W, height: H,
    marginLeft: left, marginRight: right, marginTop: mTop, marginBottom: mBottom,
    x: {domain: [1.15, 2.4], axis: null},
    y: {domain: [-0.055, 4.0], axis: null},
    style: {fontFamily: FONT, fontSize: FS + "px", background: "transparent", color: "#000", overflow: "visible"},
    marks
  });
}

const wrap = document.getElementById("wrap");
wrap.appendChild(panel({left: 52, right: W - 428, series: leftSeries, xLabels: xLabelsLeft, showY: true}));
wrap.appendChild(panel({left: 437, right: 16, series: rightSeries, xLabels: xLabelsRight, showY: false}));
</script>
</body></html>
